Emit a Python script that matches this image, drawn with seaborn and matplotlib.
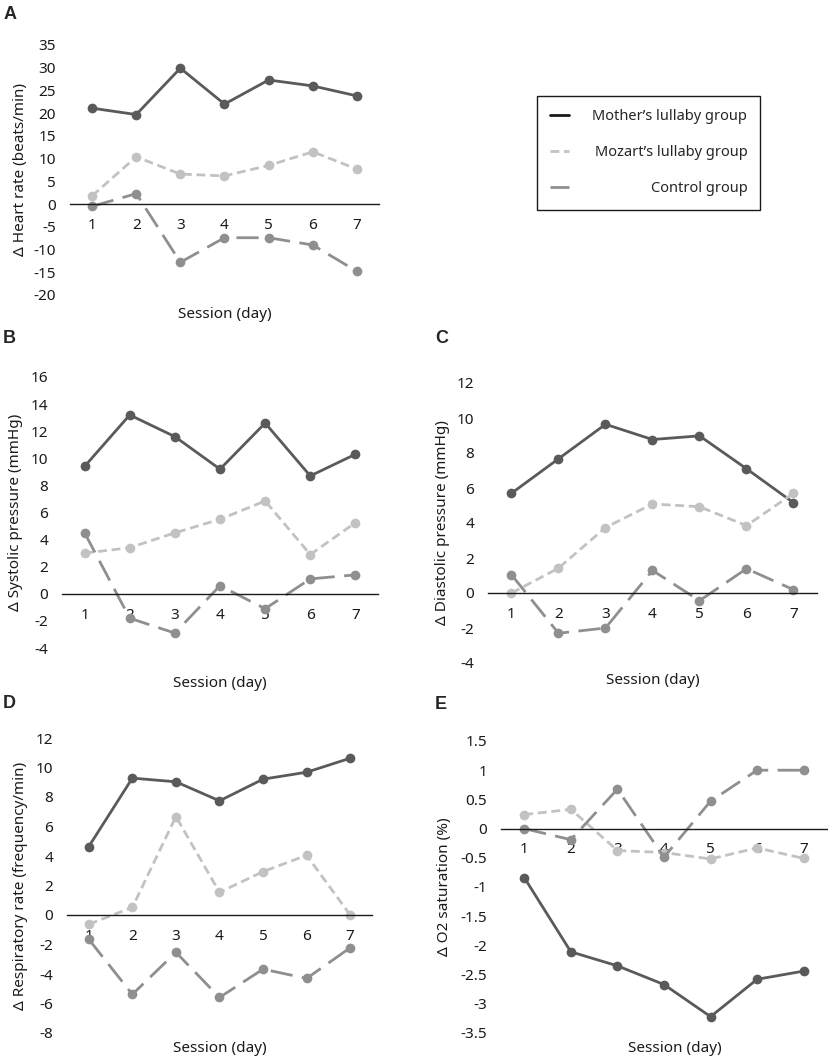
import numpy as np
import pandas as pd
import matplotlib
matplotlib.use("Agg")
import matplotlib.pyplot as plt
import seaborn as sns
from matplotlib.ticker import FuncFormatter

sessions = [1, 2, 3, 4, 5, 6, 7]
groups = ["Mother\u2019s lullaby group", "Mozart\u2019s lullaby group", "Control group"]

# A: heart rate
hr_mother = [21.1, 19.7, 29.9, 22.0, 27.3, 26.0, 23.8]
hr_mozart = [1.8, 10.4, 6.6, 6.2, 8.5, 11.5, 7.7]
hr_control = [-0.5, 2.3, -12.8, -7.4, -7.4, -9.0, -14.8]
# B: systolic pressure
sbp_mother = [9.4, 13.2, 11.6, 9.2, 12.6, 8.7, 10.3]
sbp_mozart = [3.0, 3.4, 4.5, 5.5, 6.85, 2.9, 5.25]
sbp_control = [4.5, -1.8, -2.9, 0.6, -1.1, 1.1, 1.4]
# C: diastolic pressure
dbp_mother = [5.7, 7.67, 9.64, 8.77, 8.98, 7.1, 5.16]
dbp_mozart = [0.0, 1.42, 3.74, 5.09, 4.93, 3.85, 5.7]
dbp_control = [1.04, -2.3, -2.0, 1.29, -0.44, 1.39, 0.19]
# D: respiratory rate
rr_mother = [4.64, 9.28, 9.03, 7.74, 9.21, 9.68, 10.63]
rr_mozart = [-0.63, 0.52, 6.67, 1.54, 2.94, 4.05, 0.0]
rr_control = [-1.65, -5.38, -2.53, -5.59, -3.67, -4.3, -2.22]
# E: O2 saturation
o2_mother = [-0.84, -2.11, -2.35, -2.67, -3.22, -2.58, -2.44]
o2_mozart = [0.24, 0.33, -0.375, -0.41, -0.52, -0.33, -0.51]
o2_control = [0.0, -0.19, 0.675, -0.49, 0.47, 1.0, 1.0]

sns.set_theme(style="white")
plt.rcParams["font.family"] = ["Noto Sans", "DejaVu Sans"]
plt.rcParams["axes.unicode_minus"] = False

palette = dict(zip(groups, ["#5a5a5a", "#c2c2c2", "#8f8f8f"]))
dashes = dict(zip(groups, ["", (3.2, 1.7), (8, 3.4)]))
markers = dict(zip(groups, ["o", "o", "o"]))


def long_df(mother, mozart, control):
    return pd.DataFrame({
        "session": sessions * 3,
        "value": mother + mozart + control,
        "group": [g for g in groups for _ in sessions],
    })


W, H = 829, 1062
fig = plt.figure(figsize=(W / 100, H / 100), dpi=100)

# letter, ylabel, data, (ymin, ymax, step), plot area px (l, t, r, b), ylabel x, xlabel (x, y), letter pos px
panels = [
    ("A", "\u0394 Heart rate (beats/min)", long_df(hr_mother, hr_mozart, hr_control),
     (-20, 35, 5), (70, 45, 379, 295), -0.136, (0.5, -0.048), (4, 6)),
    ("B", "\u0394 Systolic pressure (mmHg)", long_df(sbp_mother, sbp_mozart, sbp_control),
     (-4, 16, 2), (62, 377, 378, 648), -0.123, (0.5, -0.104), (3, 330)),
    ("C", "\u0394 Diastolic pressure (mmHg)", long_df(dbp_mother, dbp_mozart, dbp_control),
     (-4, 12, 2), (488, 383, 817, 663), -0.116, (0.5, -0.036), (435, 330)),
    ("D", "\u0394 Respiratory rate (frequency/min)", long_df(rr_mother, rr_mozart, rr_control),
     (-8, 12, 2), (67, 738, 372, 1033), -0.128, (0.5, -0.027), (3, 695)),
    ("E", "\u0394 O2 saturation (%)", long_df(o2_mother, o2_mozart, o2_control),
     (-3.5, 1.5, 0.5), (501, 741, 827, 1033), -0.150, (0.534, -0.027), (435, 696)),
]

handles, labels = None, None
for letter, ylab, d, (lo, hi, step), (l, t, r, b), ylx, (xlx, xly), (lx, ly) in panels:
    ax = fig.add_axes([l / W, 1 - b / H, (r - l) / W, (b - t) / H])
    sns.lineplot(data=d, x="session", y="value", hue="group", style="group",
                 hue_order=groups, style_order=groups, palette=palette,
                 dashes=dashes, markers=markers, linewidth=2, markersize=7,
                 markeredgewidth=0, errorbar=None, ax=ax, legend=(letter == "A"))
    if letter == "A":
        handles, labels = ax.get_legend_handles_labels()
        ax.get_legend().remove()
    ax.set_xlim(0.5, 7.5)
    ax.set_ylim(lo, hi)
    ax.set_xticks(sessions)
    ax.set_yticks(np.arange(lo, hi + step / 2, step))
    ax.yaxis.set_major_formatter(FuncFormatter(lambda v, p: f"{round(v, 2) + 0:g}"))
    for s in ["top", "right", "left"]:
        ax.spines[s].set_visible(False)
    ax.spines["bottom"].set_position(("data", 0))
    ax.spines["bottom"].set_color("#1a1a1a")
    ax.spines["bottom"].set_linewidth(1)
    ax.tick_params(axis="both", length=0, labelsize=11, colors="#1a1a1a")
    ax.tick_params(axis="x", pad=10)
    ax.tick_params(axis="y", pad=10)
    ax.set_xlabel("Session (day)", fontsize=11, color="#1a1a1a")
    ax.xaxis.set_label_coords(xlx, xly)
    ax.set_ylabel(ylab, fontsize=11, color="#1a1a1a")
    ax.yaxis.set_label_coords(ylx, 0.5)
    fig.text(lx / W, 1 - ly / H, letter, ha="left", va="top", fontsize=13,
             fontweight="bold", family="Liberation Sans")

# legend handles without markers
for h in handles:
    h.set_marker("")
handles[0].set_color("#1a1a1a")
leg = fig.legend(handles, labels, loc="upper left", bbox_to_anchor=(537 / W, 1 - 96 / H),
                 frameon=True, fancybox=False, framealpha=1, edgecolor="#1a1a1a",
                 fontsize=10.5, handlelength=1.3, handletextpad=1.6, labelspacing=1.45,
                 borderpad=0.9, borderaxespad=0)
leg.get_frame().set_linewidth(1)

# right-align the legend texts
fig.canvas.draw()
rend = fig.canvas.get_renderer()
widths = [t.get_window_extent(rend).width for t in leg.get_texts()]
rows = [hp for col in leg._legend_handle_box.get_children() for hp in col.get_children()]
for hp, w in zip(rows, widths):
    hp.sep += (max(widths) - w) * 72 / fig.dpi

fig.savefig("out.png", dpi=100)
